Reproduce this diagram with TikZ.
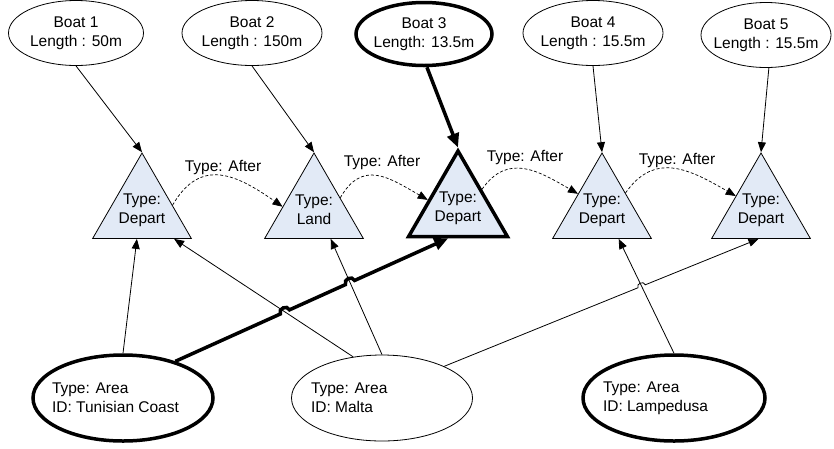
\documentclass[tikz,border=0pt]{standalone}
\usepackage{fontspec}
\setmainfont{Liberation Sans}
\usetikzlibrary{shapes.geometric,arrows.meta,calc,intersections}
\definecolor{trifill}{RGB}{226,234,246}
\newcommand\ZC[1]{\makebox[0pt]{#1}}
\newcommand\ZL[1]{\makebox[0pt][l]{\hspace{-71pt}#1}}
\begin{document}
\begin{tikzpicture}[x=1pt,y=1pt,
  font=\fontsize{15.5}{19}\selectfont,
  boat/.style={ellipse, draw, fill=white, line width=0.8pt, inner sep=0pt,
    minimum height=65pt, minimum width=140pt, align=center},
  area/.style={ellipse, draw, fill=white, line width=0.8pt, inner sep=0pt,
    minimum height=86pt, minimum width=181pt, align=left},
  tri/.style={regular polygon, regular polygon sides=3, draw, fill=trifill,
    line width=0.8pt, inner sep=0pt, minimum size=114pt, align=center},
  hl/.style={line width=3.5pt},
  arr/.style={draw, line width=0.8pt, -{Triangle[length=10pt,width=8pt]}},
  harr/.style={draw, line width=3.5pt, -{Triangle[length=14pt,width=12pt]}},
  after/.style={draw, line width=0.7pt, dash pattern=on 3pt off 2pt,
    -{Triangle[length=10pt,width=8pt]}},
  lbl/.style={inner sep=0pt}
]
\useasboundingbox (0,0) rectangle (834,-448);

% boats
\node[boat, minimum width=135pt] (b1) at (76,-33) {\ZC{Boat 1}\\\ZC{Length : 50m}};
\node[boat] (b2) at (252,-33) {\ZC{Boat 2}\\\ZC{Length : 150m}};
\node[boat, hl, minimum width=136pt, minimum height=63pt] (b3) at (424,-34) {\ZC{Boat 3}\\\ZC{Length: 13.5m}};
\node[boat] (b4) at (593,-33) {\ZC{Boat 4}\\\ZC{Length : 15.5m}};
\node[boat, minimum width=130pt] (b5) at (766,-35) {\ZC{Boat 5}\\\ZC{Length : 15.5m}};

% events
\node[tri] (t1) at (142,-210) {\ZC{Type:}\\\ZC{Depart}};
\node[tri] (t2) at (314,-210) {\ZC{Type:}\\\ZC{Land}};
\node[tri, hl] (t3) at (458,-208) {\ZC{Type:}\\\ZC{Depart}};
\node[tri] (t4) at (602,-210) {\ZC{Type:}\\\ZC{Depart}};
\node[tri] (t5) at (761,-210) {\ZC{Type:}\\\ZC{Depart}};

% areas
\node[area, hl, minimum width=180pt] (tc) at (123,-398) {\ZL{Type: Area}\\\ZL{ID: Tunisian Coast}};
\node[area] (ma) at (382,-398) {\ZL{Type: Area}\\\ZL{ID: Malta}};
\node[area, hl, minimum width=182pt] (la) at (674,-398) {\ZL{Type: Area}\\\ZL{ID: Lampedusa}};

% boat -> event
\draw[arr] (b1.south) -- (t1.corner 1);
\draw[arr] (b2.south) -- (t2.corner 1);
\draw[harr] (b3.-85) -- (t3.corner 1);
\draw[arr] (b4.south) -- (t4.corner 1);
\draw[arr] (b5.-85) -- (t5.corner 1);

% after relations
\draw[after] (t1.9) to[out=60, in=145, looseness=1.3] (t2.174);
\draw[after] (t2.25) to[out=60, in=150, looseness=1.3] (t3.165);
\draw[after] (t3.38) to[out=55, in=150, looseness=1.2] (t4.146);
\draw[after] (t4.36) to[out=55, in=150, looseness=1.2] (t5.151);
\node[lbl] (l1) at (223,-167) {Type: After};
\node[lbl] (l2) at (382,-162) {Type: After};
\node[lbl] (l3) at (525,-157) {Type: After};
\node[lbl] (l4) at (677,-160) {Type: After};

% area -> event
\draw[arr] (tc.north) -- (t1.260);
\draw[arr, name path=pm1] (ma.125) -- (t1.-42);
\draw[arr, name path=pm2] (ma.north) -- (t2.-60);
\draw[arr, name path=pm4] (la.north) -- (t4.-60);

\path[name path=pm5] (ma.27) -- (t5.265);
\path[name intersections={of=pm5 and pm4, by=xc}];
\draw[arr] (ma.27) -- ($(xc)!4pt!(ma.27)$) to[bend left=90, looseness=1.5] ($(xc)!4pt!(t5.265)$) -- (t5.265);

\path[name path=pth] (tc.35) -- (t3.252);
\path[name intersections={of=pth and pm1, by=xa}];
\path[name intersections={of=pth and pm2, by=xb}];
\draw[harr] (tc.35) -- ($(xa)!5pt!(tc.35)$) to[bend left=90, looseness=1.5] ($(xa)!5pt!(t3.252)$)
  -- ($(xb)!5pt!(tc.35)$) to[bend left=90, looseness=1.5] ($(xb)!5pt!(t3.252)$) -- (t3.252);
\end{tikzpicture}
\end{document}
